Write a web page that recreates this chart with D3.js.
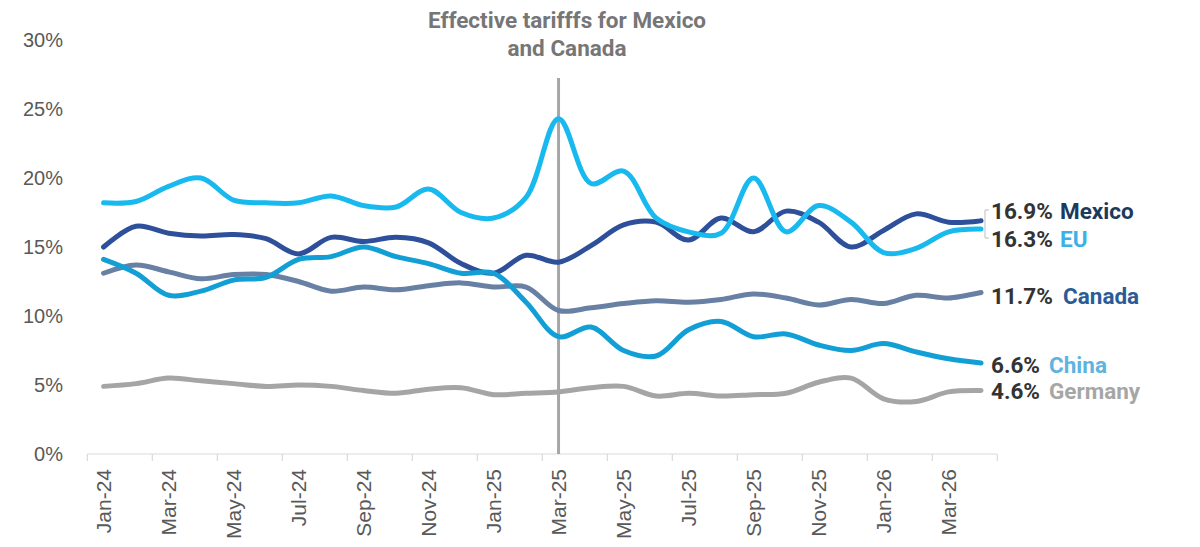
<!DOCTYPE html>
<html>
<head>
<meta charset="utf-8">
<script src="https://cdn.jsdelivr.net/npm/d3@7"></script>
<style>
  body { margin: 0; background: #fff; }
  svg { display: block; }
</style>
</head>
<body>
<svg width="1200" height="547"></svg>
<script>
// monthly effective tariff rates, %
var months = ["Jan-24","Feb-24","Mar-24","Apr-24","May-24","Jun-24","Jul-24","Aug-24","Sep-24","Oct-24","Nov-24","Dec-24",
              "Jan-25","Feb-25","Mar-25","Apr-25","May-25","Jun-25","Jul-25","Aug-25","Sep-25","Oct-25","Nov-25","Dec-25",
              "Jan-26","Feb-26","Mar-26","Apr-26"];
var mexico  = [15.0,16.5,16.0,15.8,15.9,15.6,14.5,15.7,15.4,15.7,15.3,13.8,13.1,14.4,13.9,15.1,16.6,16.8,15.5,17.1,16.1,17.6,16.8,15.0,16.2,17.4,16.8,16.9];
var eu      = [18.2,18.3,19.4,20.0,18.4,18.2,18.2,18.7,18.0,17.9,19.2,17.5,17.1,18.6,24.3,19.6,20.5,17.1,16.1,16.0,20.0,16.1,18.0,16.8,14.6,14.9,16.1,16.3];
var canada  = [13.1,13.7,13.2,12.7,13.0,13.0,12.5,11.8,12.1,11.9,12.2,12.4,12.1,12.1,10.4,10.6,10.9,11.1,11.0,11.2,11.6,11.3,10.8,11.2,10.9,11.5,11.3,11.7];
var china   = [14.1,13.1,11.5,11.8,12.6,12.8,14.1,14.3,15.0,14.3,13.8,13.1,13.1,11.0,8.5,9.2,7.5,7.1,9.0,9.6,8.5,8.7,7.9,7.5,8.0,7.4,6.9,6.6];
var germany = [4.9,5.1,5.5,5.3,5.1,4.9,5.0,4.9,4.6,4.4,4.7,4.8,4.3,4.4,4.5,4.8,4.9,4.2,4.4,4.2,4.3,4.4,5.2,5.5,4.0,3.8,4.5,4.6];
var yTicks = [0, 5, 10, 15, 20, 25, 30];
var markerMonth = "Mar-25";
var markerText = ["Effective tarifffs for Mexico", "and Canada"];

var series = [
    { name: "Germany", values: germany, color: "#a5a5a5", labelColor: "#a6a6a6", labelY: 391, nameX: 1049 },
    { name: "Canada",  values: canada,  color: "#6780a3", labelColor: "#2a5b96", labelY: 296, nameX: 1063 },
    { name: "Mexico",  values: mexico,  color: "#2e509a", labelColor: "#1b3a5c", labelY: 211, nameX: 1060 },
    { name: "China",   values: china,   color: "#129fd6", labelColor: "#5fb3de", labelY: 365, nameX: 1049 },
    { name: "EU",      values: eu,      color: "#18b9ef", labelColor: "#3bb1e6", labelY: 239, nameX: 1060 }
];

var svg = d3.select("svg");

var x = d3.scalePoint()
    .domain(months)
    .range([87.3, 997.3])
    .padding(0.5);
var step = x.step();

var y = d3.scaleLinear()
    .domain([0, 30])
    .range([454, 40]);

// y axis labels (no axis line, no gridlines)
svg.append("g")
    .selectAll("text")
    .data(yTicks)
    .enter().append("text")
    .attr("x", 63)
    .attr("y", function (d) { return y(d); })
    .attr("dy", "0.36em")
    .attr("text-anchor", "end")
    .attr("font-family", "Liberation Sans, Arial, sans-serif")
    .attr("font-size", 20)
    .attr("fill", "#595959")
    .text(function (d) { return d + "%"; });

// x axis
var xAxis = svg.append("g");
xAxis.append("line")
    .attr("x1", 87.3).attr("x2", 997.3)
    .attr("y1", 454).attr("y2", 454)
    .attr("stroke", "#d9d9d9").attr("stroke-width", 1.2);

var tickPos = d3.range(0, months.length + 1, 2).map(function (i) { return 87.3 + i * step; });
xAxis.selectAll("line.tick")
    .data(tickPos)
    .enter().append("line")
    .attr("class", "tick")
    .attr("x1", function (d) { return d; }).attr("x2", function (d) { return d; })
    .attr("y1", 454).attr("y2", 461)
    .attr("stroke", "#d9d9d9").attr("stroke-width", 1.2);

xAxis.selectAll("text")
    .data(months.filter(function (m, i) { return i % 2 === 0; }))
    .enter().append("text")
    .attr("transform", function (d) { return "translate(" + x(d) + ",469) rotate(-90)"; })
    .attr("dy", "0.36em")
    .attr("text-anchor", "end")
    .attr("font-family", "Liberation Sans, Arial, sans-serif")
    .attr("font-size", 21)
    .attr("fill", "#595959")
    .text(function (d) { return d; });

// marker line + annotation
svg.append("line")
    .attr("x1", x(markerMonth)).attr("x2", x(markerMonth))
    .attr("y1", 78).attr("y2", 454)
    .attr("stroke", "#a6a6a6").attr("stroke-width", 3);

svg.append("g")
    .selectAll("text")
    .data(markerText)
    .enter().append("text")
    .attr("x", 567)
    .attr("y", function (d, i) { return 28 + i * 28; })
    .attr("text-anchor", "middle")
    .attr("font-family", "Roboto, sans-serif")
    .attr("font-weight", 700)
    .attr("font-size", 22.5)
    .attr("fill", "#767676")
    .text(function (d) { return d; });

// lines
var line = d3.line()
    .x(function (d, i) { return x(months[i]); })
    .y(function (d) { return y(d); })
    .curve(d3.curveCatmullRom.alpha(0.5));

svg.append("g")
    .selectAll("path")
    .data(series)
    .enter().append("path")
    .attr("d", function (s) { return line(s.values); })
    .attr("fill", "none")
    .attr("stroke", function (s) { return s.color; })
    .attr("stroke-width", 5)
    .attr("stroke-linecap", "round")
    .attr("stroke-linejoin", "round");

// leader bracket for Mexico / EU labels
svg.append("path")
    .attr("d", "M989,210 H985 V238 H989")
    .attr("fill", "none")
    .attr("stroke", "#bfbfbf")
    .attr("stroke-width", 1);

// end labels
var labels = svg.append("g")
    .attr("font-family", "Roboto, sans-serif")
    .attr("font-weight", 700)
    .attr("font-size", 22.5);

labels.selectAll("text.val")
    .data(series)
    .enter().append("text")
    .attr("class", "val")
    .attr("x", 991)
    .attr("y", function (s) { return s.labelY; })
    .attr("dy", "0.36em")
    .attr("fill", "#333333")
    .text(function (s) { return s.values[s.values.length - 1].toFixed(1) + "%"; });

labels.selectAll("text.name")
    .data(series)
    .enter().append("text")
    .attr("class", "name")
    .attr("x", function (s) { return s.nameX; })
    .attr("y", function (s) { return s.labelY; })
    .attr("dy", "0.36em")
    .attr("fill", function (s) { return s.labelColor; })
    .text(function (s) { return s.name; });
</script>
</body>
</html>
